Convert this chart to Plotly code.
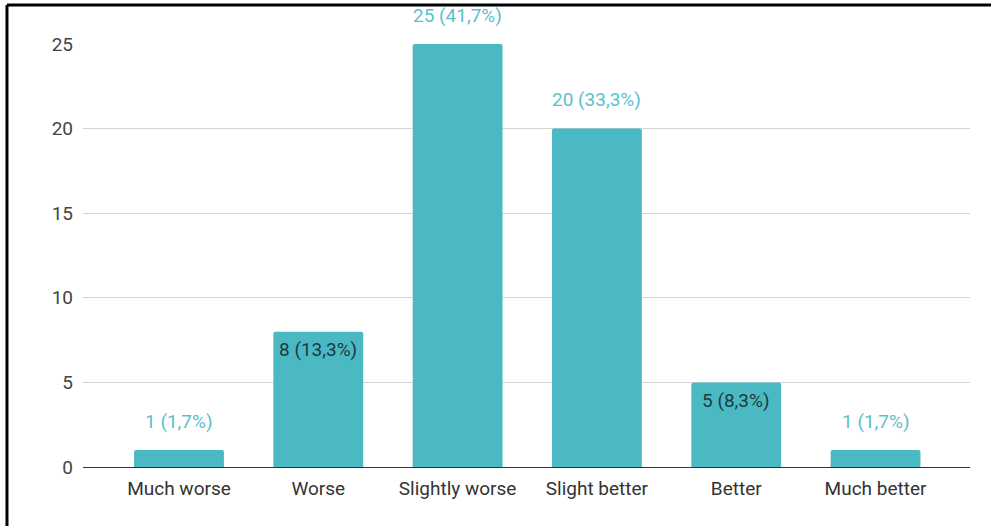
import plotly.graph_objects as go

categories = ["Much worse", "Worse", "Slightly worse", "Slight better", "Better", "Much better"]
counts = [1, 8, 25, 20, 5, 1]
percent_labels = ["1,7%", "13,3%", "41,7%", "33,3%", "8,3%", "1,7%"]
label_inside = [False, True, False, False, True, False]
y_ticks = [0, 5, 10, 15, 20, 25]

BAR = "#4ab9c4"
LABEL_OUT = "#5cc0ca"
LABEL_IN = "#1f3a40"
FONT = "Roboto, Arial, sans-serif"

fig = go.Figure()
fig.add_trace(go.Bar(
    x=list(range(len(categories))),
    y=counts,
    width=0.645,
    marker=dict(color=BAR, cornerradius=2, line=dict(width=0)),
    hoverinfo="skip",
))

# value labels: teal above the bar, or dark text just inside its top
for i, (c, p, inside) in enumerate(zip(counts, percent_labels, label_inside)):
    fig.add_annotation(
        x=i, y=c, text=f"{c} ({p})", showarrow=False,
        xref="x", yref="y", yanchor="middle",
        yshift=-18 if inside else 29,
        font=dict(family=FONT, size=19,
                  color=LABEL_IN if inside else LABEL_OUT),
    )

# frame lines along the left and top edges
fig.add_shape(type="line", xref="paper", yref="paper",
              x0=-0.0857, x1=-0.0857, y0=1.092, y1=-0.15,
              line=dict(color="black", width=3))
fig.add_shape(type="line", xref="paper", yref="paper",
              x0=-0.0857, x1=1.0237, y0=1.092, y1=1.092,
              line=dict(color="black", width=3))

fig.update_layout(
    width=992, height=526,
    margin=dict(l=83, r=22, t=44, b=59),
    paper_bgcolor="white", plot_bgcolor="white",
    showlegend=False,
    font=dict(family=FONT),
    xaxis=dict(
        range=[-0.689, 5.678],
        tickmode="array", tickvals=list(range(len(categories))), ticktext=categories,
        tickfont=dict(size=19, color="#333333"),
        showgrid=False, zeroline=False, showline=False,
        ticks="", ticklabelstandoff=8, fixedrange=True,
    ),
    yaxis=dict(
        range=[0, 25],
        tickmode="array", tickvals=y_ticks,
        tickfont=dict(size=19, color="#444444"),
        showgrid=True, gridcolor="#d3d3d3", gridwidth=1,
        zeroline=True, zerolinecolor="#333333", zerolinewidth=1,
        showline=False, ticks="", ticklabelstandoff=9, fixedrange=True,
    ),
)

fig.write_html("out.html")
